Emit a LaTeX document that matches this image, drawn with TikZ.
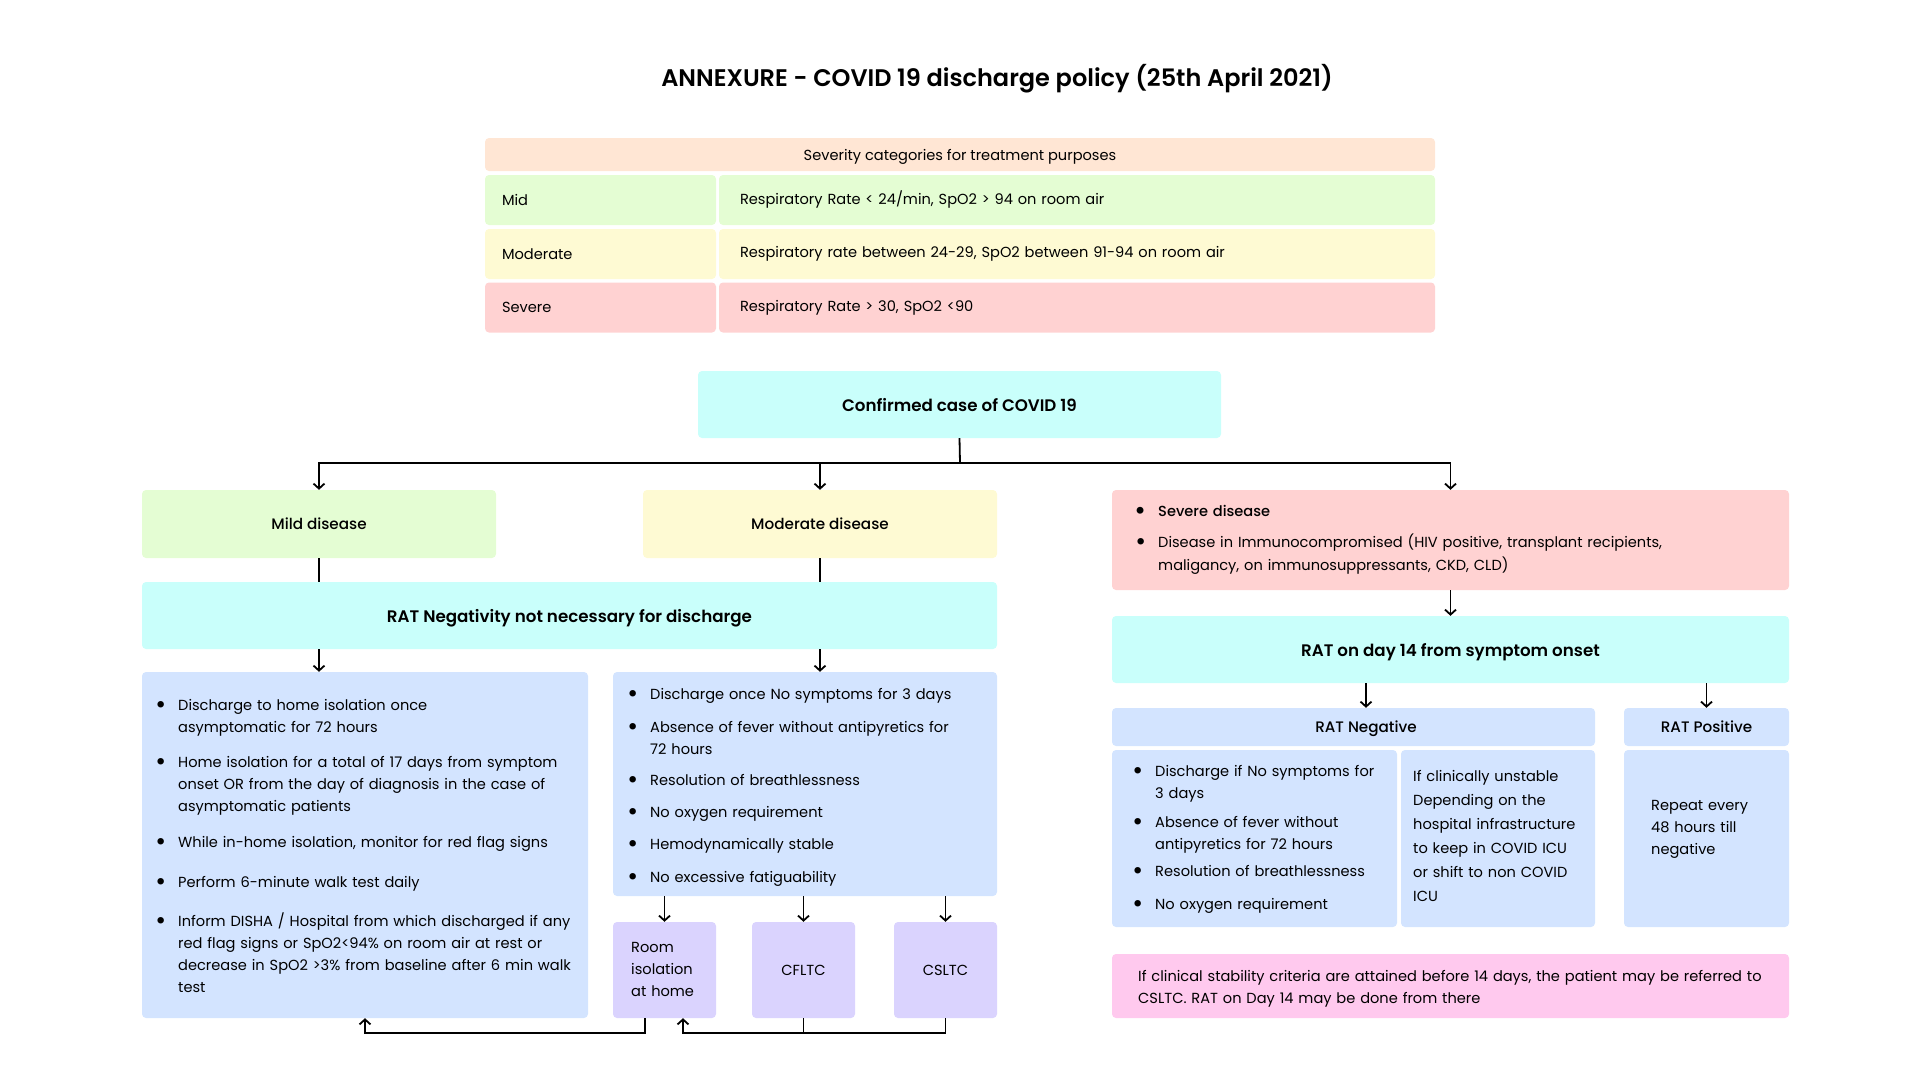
\documentclass[tikz,border=0pt]{standalone}
\usepackage{fontspec}
\setmainfont{Poppins}
\newfontfamily\semib{Poppins SemiBold}
\newfontfamily\medf{Poppins Medium}
\usetikzlibrary{arrows.meta}

\definecolor{peach}{HTML}{FFE6D4}
\definecolor{mildg}{HTML}{E4FDD3}
\definecolor{modery}{HTML}{FEFAD3}
\definecolor{sevr}{HTML}{FFD2D2}
\definecolor{cyanb}{HTML}{C9FFFB}
\definecolor{blueb}{HTML}{D3E4FF}
\definecolor{lavb}{HTML}{DAD3FE}
\definecolor{pinkb}{HTML}{FFC9EE}

\newcommand{\bul}{\llap{\raisebox{-3pt}{\scalebox{1.8}{\textbullet}}\hskip 12pt}}

\begin{document}
\begin{tikzpicture}[
  x=1pt, y=-1pt,
  font=\fontsize{14.6}{22}\selectfont,
  box/.style={rectangle, rounded corners=4pt, inner sep=0pt, align=center},
  cellL/.style={box, minimum height=50pt, text width=197pt, inner xsep=17pt, align=left},
  cellR/.style={box, minimum height=50pt, text width=674pt, inner xsep=21pt, align=left},
  txt/.style={anchor=base west, inner sep=0pt, text width=640pt, align=left},
  head/.style={font=\semib\fontsize{16.7}{20}\selectfont, text depth=0pt},
  sub/.style={font=\medf\fontsize{15.2}{20}\selectfont, text depth=0pt},
  edge/.style={line width=1.8pt, black},
  arr/.style={edge, -{Straight Barb[length=5pt,width=11pt]}}
]
\useasboundingbox (0,0) rectangle (1920,1080);

% --- title and severity table ------------------------------------------------
\node[font=\semib\fontsize{24}{28}\selectfont] (title) at (997,79)
  {ANNEXURE - COVID 19 discharge policy (25th April 2021)};

\node[box, fill=peach, minimum width=950pt, minimum height=33pt, text depth=0pt] (thead) at (960,154.5)
  {Severity categories for treatment purposes};
\node[cellL, fill=mildg]  (tmid)  at (600.5,200)   {Mid};
\node[cellR, fill=mildg]  (tmidr) at (1077,200)    {Respiratory Rate < 24/min, SpO2 > 94 on room air};
\node[cellL, fill=modery] (tmod)  at (600.5,254)   {Moderate};
\node[cellR, fill=modery] (tmodr) at (1077,254)    {Respiratory rate between 24-29, SpO2 between 91-94 on room air};
\node[cellL, fill=sevr]   (tsev)  at (600.5,307.5) {Severe};
\node[cellR, fill=sevr]   (tsevr) at (1077,307.5)  {Respiratory Rate > 30, SpO2 <90};

% --- flow boxes ----------------------------------------------------------------
\node[box, head, fill=cyanb, minimum width=523pt, minimum height=67pt] (conf) at (959.5,404.5)
  {Confirmed case of COVID 19};

\node[box, sub, fill=mildg,  minimum width=354pt, minimum height=68pt] (mild)  at (319,524) {Mild disease};
\node[box, sub, fill=modery, minimum width=354pt, minimum height=68pt] (moder) at (820,524) {Moderate disease};
\node[box, fill=sevr, minimum width=677pt, minimum height=100pt] (sev) at (1450.5,540) {};

\node[box, head, fill=cyanb, minimum width=855pt, minimum height=67pt] (ratn) at (569.5,615.5)
  {RAT Negativity not necessary for discharge};
\node[box, fill=blueb, minimum width=446pt, minimum height=346pt] (mlist) at (365,845) {};
\node[box, fill=blueb, minimum width=384pt, minimum height=224pt] (dlist) at (805,784) {};

\node[box, fill=lavb, minimum width=103pt, minimum height=96pt] (room)  at (664.5,970) {};
\node[box, fill=lavb, minimum width=103pt, minimum height=96pt] (cfltc) at (803.5,970) {CFLTC};
\node[box, fill=lavb, minimum width=103pt, minimum height=96pt] (csltc) at (945.5,970) {CSLTC};

\node[box, head, fill=cyanb, minimum width=677pt, minimum height=67pt] (rat14) at (1450.5,649.5)
  {RAT on day 14 from symptom onset};
\node[box, fill=blueb, minimum width=483pt, minimum height=38pt]       (negh) at (1353.5,727)  {};
\node[sub] (neglab) at (1366,727) {RAT Negative};
\node[box, fill=blueb, minimum width=285pt, minimum height=177pt]      (negl) at (1254.5,838.5){};
\node[box, fill=blueb, minimum width=194pt, minimum height=177pt]      (negr) at (1498,838.5)  {};
\node[box, sub, fill=blueb, minimum width=165pt, minimum height=38pt]  (posh) at (1706.5,727)  {RAT Positive};
\node[box, fill=blueb, minimum width=165pt, minimum height=177pt]      (posb) at (1706.5,838.5){};
\node[box, fill=pinkb, minimum width=677pt, minimum height=64pt]       (note) at (1450.5,986)  {};

% --- texts ---------------------------------------------------------------------
\node[txt, font=\medf\fontsize{14.6}{23}\selectfont] (s1) at (1158,516) {\bul Severe disease};
\node[txt, font=\fontsize{14.6}{23}\selectfont] (s2) at (1158,547)
  {\bul Disease in Immunocompromised (HIV positive, transplant recipients,\\maligancy, on immunosuppressants, CKD, CLD)};

\node[txt] (m1) at (178,710) {\bul Discharge to home isolation once\\asymptomatic for 72 hours};
\node[txt] (m2) at (178,767) {\bul Home isolation for a total of 17 days from symptom\\onset OR from the day of diagnosis in the case of\\asymptomatic patients};
\node[txt] (m3) at (178,847) {\bul While in-home isolation, monitor for red flag signs};
\node[txt] (m4) at (178,887) {\bul Perform 6-minute walk test daily};
\node[txt] (m5) at (178,926) {\bul Inform DISHA / Hospital from which discharged if any\\red flag signs or SpO2<94\% on room air at rest or\\decrease in SpO2 >3\% from baseline after 6 min walk\\test};

\node[txt] (d1) at (650,699) {\bul Discharge once No symptoms for 3 days};
\node[txt] (d2) at (650,732) {\bul Absence of fever without antipyretics for\\72 hours};
\node[txt] (d3) at (650,785) {\bul Resolution of breathlessness};
\node[txt] (d4) at (650,817) {\bul No oxygen requirement};
\node[txt] (d5) at (650,849) {\bul Hemodynamically stable};
\node[txt] (d6) at (650,882) {\bul No excessive fatiguability};

\node[txt] (r1) at (631,952) {Room\\isolation\\at home};

\node[txt] (n1) at (1155,776) {\bul Discharge if No symptoms for\\3 days};
\node[txt] (n2) at (1155,827) {\bul Absence of fever without\\antipyretics for 72 hours};
\node[txt] (n3) at (1155,876) {\bul Resolution of breathlessness};
\node[txt] (n4) at (1155,909) {\bul No oxygen requirement};
\node[txt, font=\fontsize{14.6}{24}\selectfont] (u1) at (1413,781)
  {If clinically unstable\\Depending on the\\hospital infrastructure\\to keep in COVID ICU\\or shift to non COVID\\ICU};
\node[txt] (p1) at (1651,810) {Repeat every\\48 hours till\\negative};
\node[txt] (c1) at (1138,981)
  {If clinical stability criteria are attained before 14 days, the patient may be referred to\\CSLTC. RAT on Day 14 may be done from there};

% --- connectors ----------------------------------------------------------------
\coordinate (bus) at (960,463);
\draw[edge] (conf.south) -- (bus);
\foreach \t in {mild,moder,sev} \draw[arr] (bus) -| (\t.north);

\draw[edge] (mild.south) -- (mild.south |- ratn.north);
\draw[edge] (moder.south) -- (moder.south |- ratn.north);
\draw[arr] (mild.south |- ratn.south) -- (mild.south |- mlist.north);
\draw[arr] (moder.south |- ratn.south) -- (moder.south |- dlist.north);
\foreach \t in {room,cfltc,csltc} \draw[arr] (\t.north |- dlist.south) -- (\t.north);

\draw[arr] ([xshift=-19.5pt]room.south) -- ++(0,15) -| (mlist.south);
\draw[arr] (csltc.south) -- ++(0,15) -| ([xshift=18.5pt]room.south);
\draw[edge] (cfltc.south) -- ++(0,15);

\draw[arr] (sev.south) -- (rat14.north);
\draw[arr] (neglab.north |- rat14.south) -- (neglab.north |- negh.north);
\draw[arr] (posh.north |- rat14.south) -- (posh.north);
\end{tikzpicture}
\end{document}
